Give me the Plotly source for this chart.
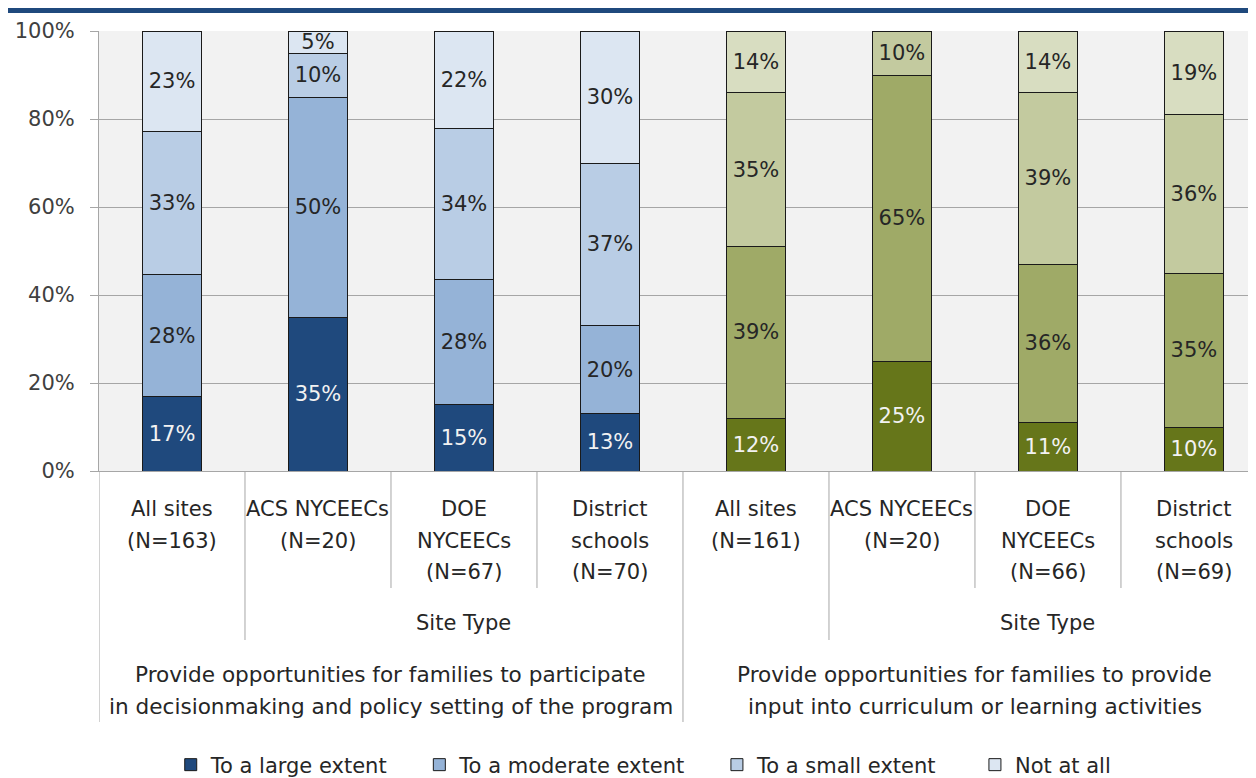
import plotly.graph_objects as go

# categories
groups = [
    ["Provide opportunities for families to participate", "in decisionmaking and policy setting of the program"],
    ["Provide opportunities for families to provide", "input into curriculum or learning activities"],
]
site_labels = [
    ["All sites", "(N=163)"], ["ACS NYCEECs", "(N=20)"], ["DOE", "NYCEECs", "(N=67)"], ["District", "schools", "(N=70)"],
    ["All sites", "(N=161)"], ["ACS NYCEECs", "(N=20)"], ["DOE", "NYCEECs", "(N=66)"], ["District", "schools", "(N=69)"],
]
levels = ["To a large extent", "To a moderate extent", "To a small extent", "Not at all"]

# percentages per level (first 4 = decisionmaking, last 4 = curriculum)
large = [17, 35, 15, 13, 12, 25, 11, 10]
moderate = [28, 50, 28, 20, 39, 65, 36, 35]
small = [33, 10, 34, 37, 35, 10, 39, 36]
not_at_all = [23, 5, 22, 30, 14, None, 14, 19]

blues = ["#1F497D", "#95B3D7", "#B9CDE5", "#DCE6F2"]
greens = ["#66761A", "#9FAA67", "#C3CA9F", "#D8DDC1"]

FONT = "DejaVu Sans, sans-serif"
FS = 21
TXT = "#262626"
GRID = "#A6A6A6"
name_pad = [4, 4, 5, 0]  # nbsp after each legend entry, for spacing

W, H = 1248, 770
x = list(range(8))
fig = go.Figure()
for i, (name, vals) in enumerate(zip(levels, [large, moderate, small, not_at_all])):
    colors = [blues[i]] * 4 + [greens[i]] * 4
    fig.add_trace(go.Bar(
        x=x,
        y=vals,
        name=name + "\u00a0" * name_pad[i],
        width=0.4,
        marker=dict(color=colors, line=dict(color="#1a1a1a", width=1)),
        text=[f"{v}%" if v else "" for v in vals],
        texttemplate="%{text}",
        textposition="inside",
        insidetextanchor="middle",
        textangle=0,
        constraintext="none",
        textfont=dict(family=FONT, size=FS, color="#F2F2F2" if i == 0 else TXT),
        hoverinfo="skip",
    ))

# page has an 8px body margin, so the figure is shifted 8px right/down
fig.update_layout(
    width=W,
    height=H,
    barmode="stack",
    barnorm="percent",
    margin=dict(l=91, r=0, t=23, b=307),
    paper_bgcolor="white",
    plot_bgcolor="#F2F2F2",
    font=dict(family=FONT, size=FS, color=TXT),
    showlegend=True,
    legend=dict(
        orientation="h",
        x=0.062, xanchor="left",
        yref="container", y=(H - 757) / H, yanchor="middle",
        font=dict(family=FONT, size=FS, color=TXT),
        itemwidth=30,
        traceorder="normal",
    ),
)

fig.update_yaxes(
    range=[0, 100],
    tickvals=[0, 20, 40, 60, 80, 100],
    ticktext=["0%", "20%", "40%", "60%", "80%", "100%"],
    tickfont=dict(size=FS, color="#404040"),
    showgrid=True, gridcolor=GRID, gridwidth=1,
    showline=True, linecolor=GRID, linewidth=1,
    ticks="outside", ticklen=8, tickcolor=GRID,
    ticklabelstandoff=11,
    zeroline=False,
)
fig.update_xaxes(
    range=[-0.5, 7.425],
    showticklabels=False,
    showgrid=False,
    showline=True, linecolor=GRID, linewidth=1,
    zeroline=False,
)

# page pixel row -> paper y (plot spans page rows 31..471)
def py(px):
    return (471 - px) / 440

line_rows = [507, 538.5, 570]
for xi, lines in enumerate(site_labels):
    for j, t in enumerate(lines):
        fig.add_annotation(x=xi, y=py(line_rows[j] + 2), xref="x", yref="paper",
                           text=t, showarrow=False, yanchor="middle",
                           font=dict(size=FS, color=TXT))

for gi, g in enumerate(groups):
    fig.add_annotation(x=4 * gi + 2, y=py(623), xref="x", yref="paper",
                       text="Site Type", showarrow=False, yanchor="middle",
                       font=dict(size=FS, color=TXT))
    for j, t in enumerate(g):
        fig.add_annotation(x=4 * gi + 1.5, y=py(674 + 32 * j), xref="x", yref="paper",
                           text=t, showarrow=False, yanchor="middle",
                           font=dict(size=21.6, color=TXT))

# category separators below the axis
sep_bottom = {0: 722, 1: 640, 2: 588, 3: 588, 4: 722, 5: 640, 6: 588, 7: 588}
for b, bottom in sep_bottom.items():
    fig.add_shape(type="line", xref="x", yref="paper",
                  x0=b - 0.5, x1=b - 0.5, y0=0, y1=py(bottom),
                  line=dict(color=GRID, width=1))

# top band
fig.add_shape(type="rect", xref="paper", yref="paper",
              x0=(7 - 99) / 1157, x1=1.0, y0=py(8), y1=py(13),
              fillcolor="#1F497D", line=dict(width=0), layer="above")

fig.write_html("out.html")
